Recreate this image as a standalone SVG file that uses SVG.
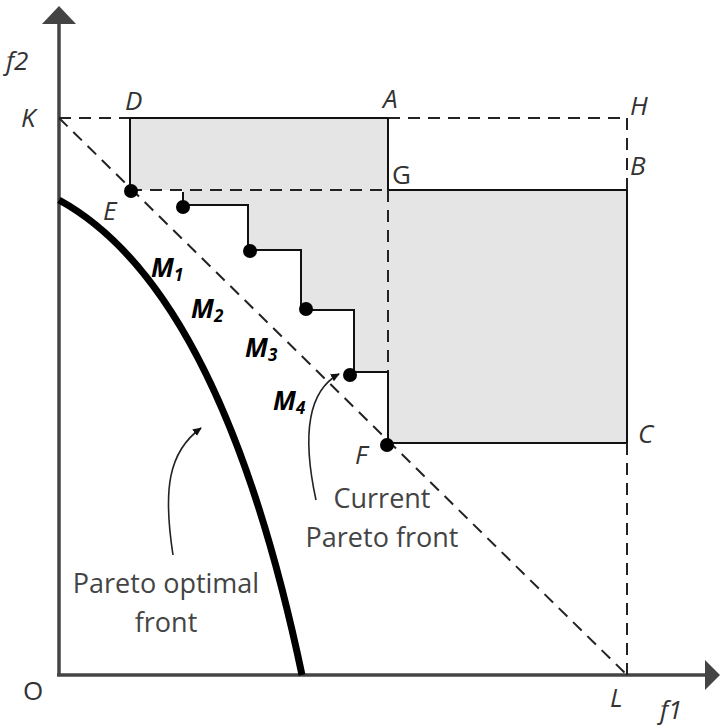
<svg xmlns="http://www.w3.org/2000/svg" width="720" height="728" viewBox="0 0 720 728">
<defs>
<style>
.lbl{font-family:"Open Sans","Liberation Sans",sans-serif;fill:#333;font-size:26px;font-style:italic}
.up{font-style:normal}
.txt{font-family:"Open Sans","Liberation Sans",sans-serif;fill:#444;font-size:27px;text-anchor:middle}
.m{font-family:"Open Sans","Liberation Sans",sans-serif;fill:#000;font-size:26px;font-weight:bold;font-style:italic}
.sub{font-size:17px}
.solid{stroke:#111;stroke-width:2;fill:none}
.dash{stroke:#222;stroke-width:2;fill:none;stroke-dasharray:12 8}
.axis{stroke:#444;stroke-width:3.5;fill:none}
.gray{fill:#e5e5e5;stroke:none}
.dot{fill:#000}
</style>
<marker id="ah" markerWidth="10" markerHeight="10" refX="8" refY="5" orient="auto" markerUnits="userSpaceOnUse">
<path d="M0,1 L9,5 L0,9 z" fill="#111"/>
</marker>
</defs>
<rect width="720" height="728" fill="#fff"/>

<g id="regions">
<rect class="gray" x="130" y="118" width="258" height="72"/>
<rect class="gray" x="388" y="190" width="239" height="253"/>
<polygon class="gray" points="183,190 388,190 388,372 354,372 354,310 301,310 301,250 248,250 248,205 183,205"/>
</g>

<g id="axes">
<line class="axis" x1="59" y1="20" x2="59" y2="675"/>
<polygon points="42,24 76,24 59,6" fill="#444"/>
<line class="axis" x1="57" y1="675" x2="708" y2="675"/>
<polygon points="705,660 705,690 720,675" fill="#444"/>
</g>

<g id="connectors">
<line class="dash" x1="59" y1="118" x2="130" y2="118"/>
<line class="solid" x1="130" y1="118" x2="388" y2="118"/>
<line class="dash" x1="388" y1="118" x2="627" y2="118"/>
<line class="dash" x1="627" y1="118" x2="627" y2="190"/>
<line class="solid" x1="130" y1="118" x2="130" y2="190"/>
<line class="solid" x1="388" y1="118" x2="388" y2="190"/>
<line class="dash" x1="130" y1="190" x2="388" y2="190"/>
<line class="solid" x1="388" y1="190" x2="627" y2="190"/>
<line class="solid" x1="627" y1="190" x2="627" y2="443"/>
<line class="dash" x1="388" y1="190" x2="388" y2="372"/>
<line class="solid" x1="388" y1="372" x2="388" y2="443"/>
<line class="solid" x1="388" y1="443" x2="627" y2="443"/>
<line class="dash" x1="627" y1="443" x2="627" y2="675"/>
<line class="dash" x1="59" y1="118" x2="627" y2="675"/>
<polyline class="solid" points="183,205 248,205 248,250 301,250 301,310 354,310 354,372 388,372"/>
<line class="solid" x1="183" y1="192" x2="183" y2="205"/>
<path d="M59,200 C150,250 240,380 302,675" stroke="#000" stroke-width="7" fill="none"/>
<path d="M173,555 C163,490 168,452 201,428" stroke="#222" stroke-width="1.6" fill="none" marker-end="url(#ah)"/>
<path d="M316,500 C303,440 306,392 339,374" stroke="#222" stroke-width="1.6" fill="none" marker-end="url(#ah)"/>
</g>

<g id="point-E"><circle class="dot" cx="131" cy="191" r="7"/><text class="lbl" x="103" y="220">E</text></g>
<g id="point-M1"><circle class="dot" cx="183" cy="207" r="7"/></g>
<g id="point-M2"><circle class="dot" cx="250" cy="251" r="7"/></g>
<g id="point-M3"><circle class="dot" cx="306" cy="309" r="7"/></g>
<g id="point-M4"><circle class="dot" cx="350" cy="375" r="7"/></g>
<g id="point-F"><circle class="dot" cx="387" cy="445" r="7"/><text class="lbl" x="355" y="464">F</text></g>
<g id="point-K"><text class="lbl" x="21" y="127">K</text></g>
<g id="point-D"><text class="lbl" x="125" y="110">D</text></g>
<g id="point-A"><text class="lbl" x="383" y="108">A</text></g>
<g id="point-H"><text class="lbl" x="630" y="115">H</text></g>
<g id="point-G"><text class="lbl up" x="392" y="184">G</text></g>
<g id="point-B"><text class="lbl" x="630" y="175">B</text></g>
<g id="point-C"><text class="lbl" x="638" y="443">C</text></g>
<g id="point-L"><text class="lbl" x="610" y="707">L</text></g>
<g id="point-O"><text class="lbl up" x="23" y="700">O</text></g>
<g id="axis-labels">
<text class="lbl" x="6" y="70" font-size="28">f2</text>
<text class="lbl" x="660" y="719" font-size="28">f1</text>
</g>
<g id="m-labels">
<text class="m" x="151" y="277">M<tspan class="sub" dy="4">1</tspan></text>
<text class="m" x="191" y="318">M<tspan class="sub" dy="4">2</tspan></text>
<text class="m" x="245" y="357">M<tspan class="sub" dy="4">3</tspan></text>
<text class="m" x="273" y="410">M<tspan class="sub" dy="4">4</tspan></text>
</g>
<g id="captions">
<text class="txt" x="166" y="593">Pareto optimal</text>
<text class="txt" x="166" y="632">front</text>
<text class="txt" x="382" y="508">Current</text>
<text class="txt" x="382" y="547">Pareto front</text>
</g>
</svg>
